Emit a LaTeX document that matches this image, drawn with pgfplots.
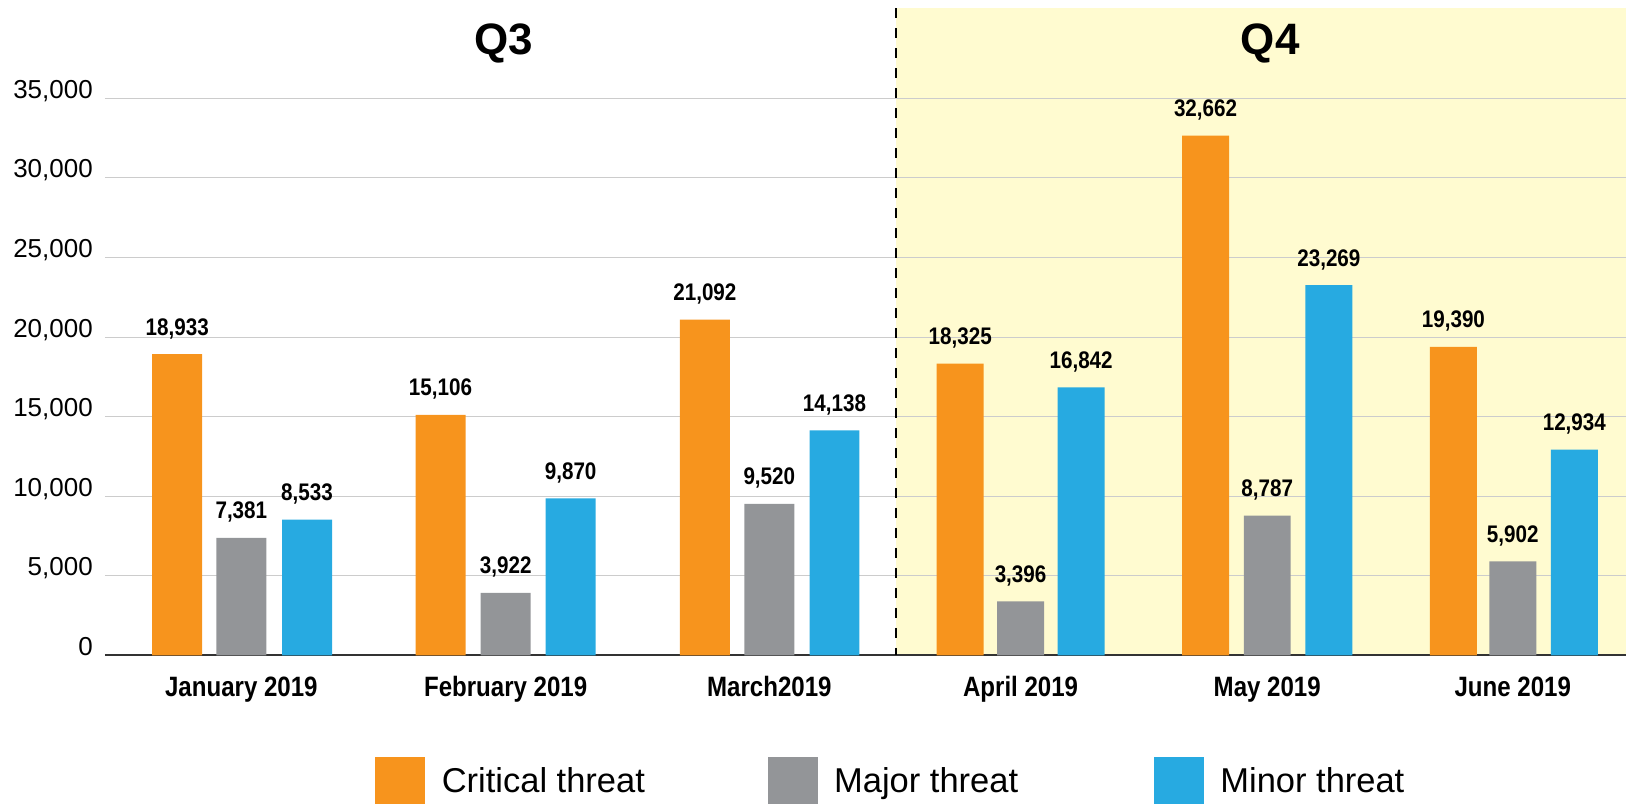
\documentclass[border=0pt]{standalone}
\usepackage{fontspec}
\setmainfont{Liberation Sans}
\newfontfamily\cond[FakeStretch=0.86]{Liberation Sans}
\usepackage{pgfplots}
\pgfplotsset{compat=1.18}
\definecolor{corange}{HTML}{F7941D}
\definecolor{cgray}{HTML}{939598}
\definecolor{cblue}{HTML}{27AAE1}
\definecolor{cyellow}{HTML}{FFFBD0}
\definecolor{cgrid}{HTML}{CCCCCC}
\definecolor{caxis}{HTML}{333333}
\begin{document}
\begin{tikzpicture}
\begin{axis}[
  set layers,
  scale only axis,
  width=1522bp, height=647.4bp,
  at={(105bp,-655.7bp)}, anchor=south west,
  xmin=105, xmax=1627, ymin=0, ymax=40665,
  axis x line*=bottom, axis y line*=left,
  x axis line style={color=caxis, line width=2bp, -},
  y axis line style={draw=none},
  xtick style={draw=none}, ytick style={draw=none},
  ymajorgrids, grid style={color=cgrid, line width=1bp},
  ytick={0,5000,...,35000},
  scaled y ticks=false,
  /pgf/number format/.cd, assume math mode=true, 1000 sep={,}, /pgfplots/.cd,
  yticklabel style={font=\fontsize{26bp}{30bp}\selectfont, anchor=base east, inner sep=0pt, xshift=-12bp},
  xtick={241.5,506,769.8,1021.2,1268,1513.7},
  xticklabels={January 2019, February 2019, March2019, April 2019, May 2019, June 2019},
  xticklabel style={font=\cond\bfseries\fontsize{28bp}{32bp}\selectfont, anchor=base, inner sep=0pt, yshift=-41bp},
  every node near coord/.append style={font=\cond\bfseries\fontsize{24bp}{28bp}\selectfont, anchor=base, inner sep=0pt, yshift=19bp},
  legend columns=3,
  legend style={draw=none, fill=none, inner sep=0pt, outer sep=0pt,
    at={(axis cs:375.7,-6382)}, anchor=north west,
    font=\fontsize{34.5bp}{40bp}\selectfont,
    /tikz/every odd column/.style={column sep=15bp},
    /tikz/every even column/.style={column sep=121bp}},
]
\begin{pgfonlayer}{axis background}
\fill[cyellow] (axis cs:897,0) rectangle (axis cs:1627,40665);
\end{pgfonlayer}
\draw[black, line width=2bp, dash pattern=on 10bp off 10bp] (axis cs:897,40665) -- (axis cs:897,0);
% Q3 bars
\addplot[ybar, bar width=50, bar shift=0pt, fill=corange, draw=none, nodes near coords, forget plot]
  coordinates {(177.3,18933) (440.8,15106) (705.3,21092)};
\addplot[ybar, bar width=50, bar shift=0pt, fill=cgray, draw=none, nodes near coords, forget plot]
  coordinates {(241.5,7381) (506,3922) (769.8,9520)};
\addplot[ybar, bar width=50, bar shift=0pt, fill=cblue, draw=none, nodes near coords, forget plot]
  coordinates {(307.2,8533) (571,9870) (835,14138)};
% Q4 bars
\addplot[ybar, bar width=47, bar shift=0pt, fill=corange, draw=none, nodes near coords, forget plot]
  coordinates {(960.8,18325) (1206.3,32662) (1454.3,19390)};
\addplot[ybar, bar width=47, bar shift=0pt, fill=cgray, draw=none, nodes near coords, forget plot]
  coordinates {(1021.2,3396) (1268,8787) (1513.7,5902)};
\addplot[ybar, bar width=47, bar shift=0pt, fill=cblue, draw=none, nodes near coords, forget plot]
  coordinates {(1081.8,16842) (1329.7,23269) (1575.3,12934)};
\addlegendimage{legend image code/.code={\fill[corange] (0bp,-22bp) rectangle (49bp,24bp);}}
\addlegendentry{Critical threat}
\addlegendimage{legend image code/.code={\fill[cgray] (0bp,-22bp) rectangle (49bp,24bp);}}
\addlegendentry{Major threat\kern13bp}
\addlegendimage{legend image code/.code={\fill[cblue] (0bp,-22bp) rectangle (49bp,24bp);}}
\addlegendentry{Minor threat}
\end{axis}
\node[anchor=base, font=\bfseries\fontsize{44bp}{48bp}\selectfont, inner sep=0pt] at (504bp,-55bp) {Q3};
\node[anchor=base, font=\bfseries\fontsize{44bp}{48bp}\selectfont, inner sep=0pt] at (1271bp,-55bp) {Q4};
\path (0,0) rectangle (1627bp,-803bp);
\end{tikzpicture}
\end{document}
